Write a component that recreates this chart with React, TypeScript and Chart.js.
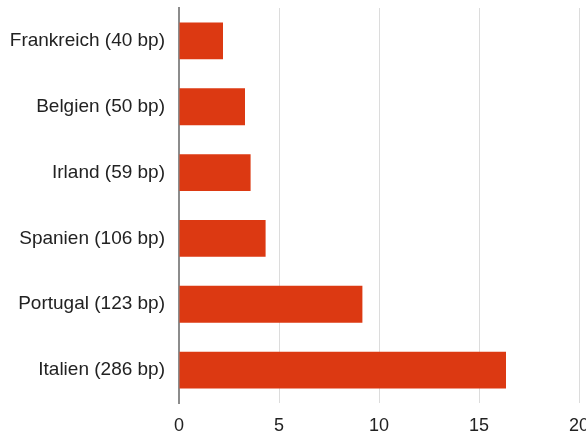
import React, { useEffect, useRef } from "react";
import { Chart, registerables } from "chart.js";

Chart.register(...registerables);

const categories = [
  "Frankreich (40 bp)",
  "Belgien (50 bp)",
  "Irland (59 bp)",
  "Spanien (106 bp)",
  "Portugal (123 bp)",
  "Italien (286 bp)",
];
const values = [2.2, 3.3, 3.58, 4.33, 9.17, 16.35];
const xMin = 0;
const xMax = 20;
const xStep = 5;

export default function App() {
  const ref = useRef<HTMLCanvasElement | null>(null);
  useEffect(() => {
    if (!ref.current) return;
    const chart = new Chart(ref.current, {
      type: "bar",
      data: {
        labels: categories,
        datasets: [
          {
            data: values,
            backgroundColor: "#dc3912",
            barPercentage: 0.56,
            categoryPercentage: 1,
          },
        ],
      },
      options: {
        indexAxis: "y",
        animation: false,
        responsive: false,
        layout: { padding: { top: 8, right: 41, left: 0, bottom: 0 } },
        plugins: { legend: { display: false }, tooltip: { enabled: false } },
        scales: {
          y: {
            afterFit: (s: any) => {
              s.width = 179;
              s.paddingTop = 0;
              s.paddingBottom = 0;
            },
            grid: { display: false, drawTicks: false },
            border: { display: true, color: "#8c8c8c", width: 2 },
            ticks: {
              padding: 14,
              color: "#222",
              font: { family: "Arial, 'Liberation Sans', sans-serif", size: 19 },
            },
          },
          x: {
            min: xMin,
            max: xMax,
            afterFit: (s: any) => {
              s.height = 34;
            },
            border: { display: false },
            grid: {
              drawTicks: false,
              color: (ctx: any) =>
                ctx.tick && ctx.tick.value === 0 ? "rgba(0,0,0,0)" : "#dcdcdc",
              lineWidth: 1,
            },
            ticks: {
              stepSize: xStep,
              padding: 12,
              color: "#222",
              maxRotation: 0,
              font: { family: "Arial, 'Liberation Sans', sans-serif", size: 18 },
            },
          },
        },
      },
    });
    return () => chart.destroy();
  }, []);
  return (
    <div
      style={{
        position: "fixed",
        left: 0,
        top: 0,
        width: 586,
        height: 437,
        overflow: "hidden",
        background: "#fff",
      }}
    >
      <canvas ref={ref} width={620} height={437} style={{ width: 620, height: 437 }} />
    </div>
  );
}
